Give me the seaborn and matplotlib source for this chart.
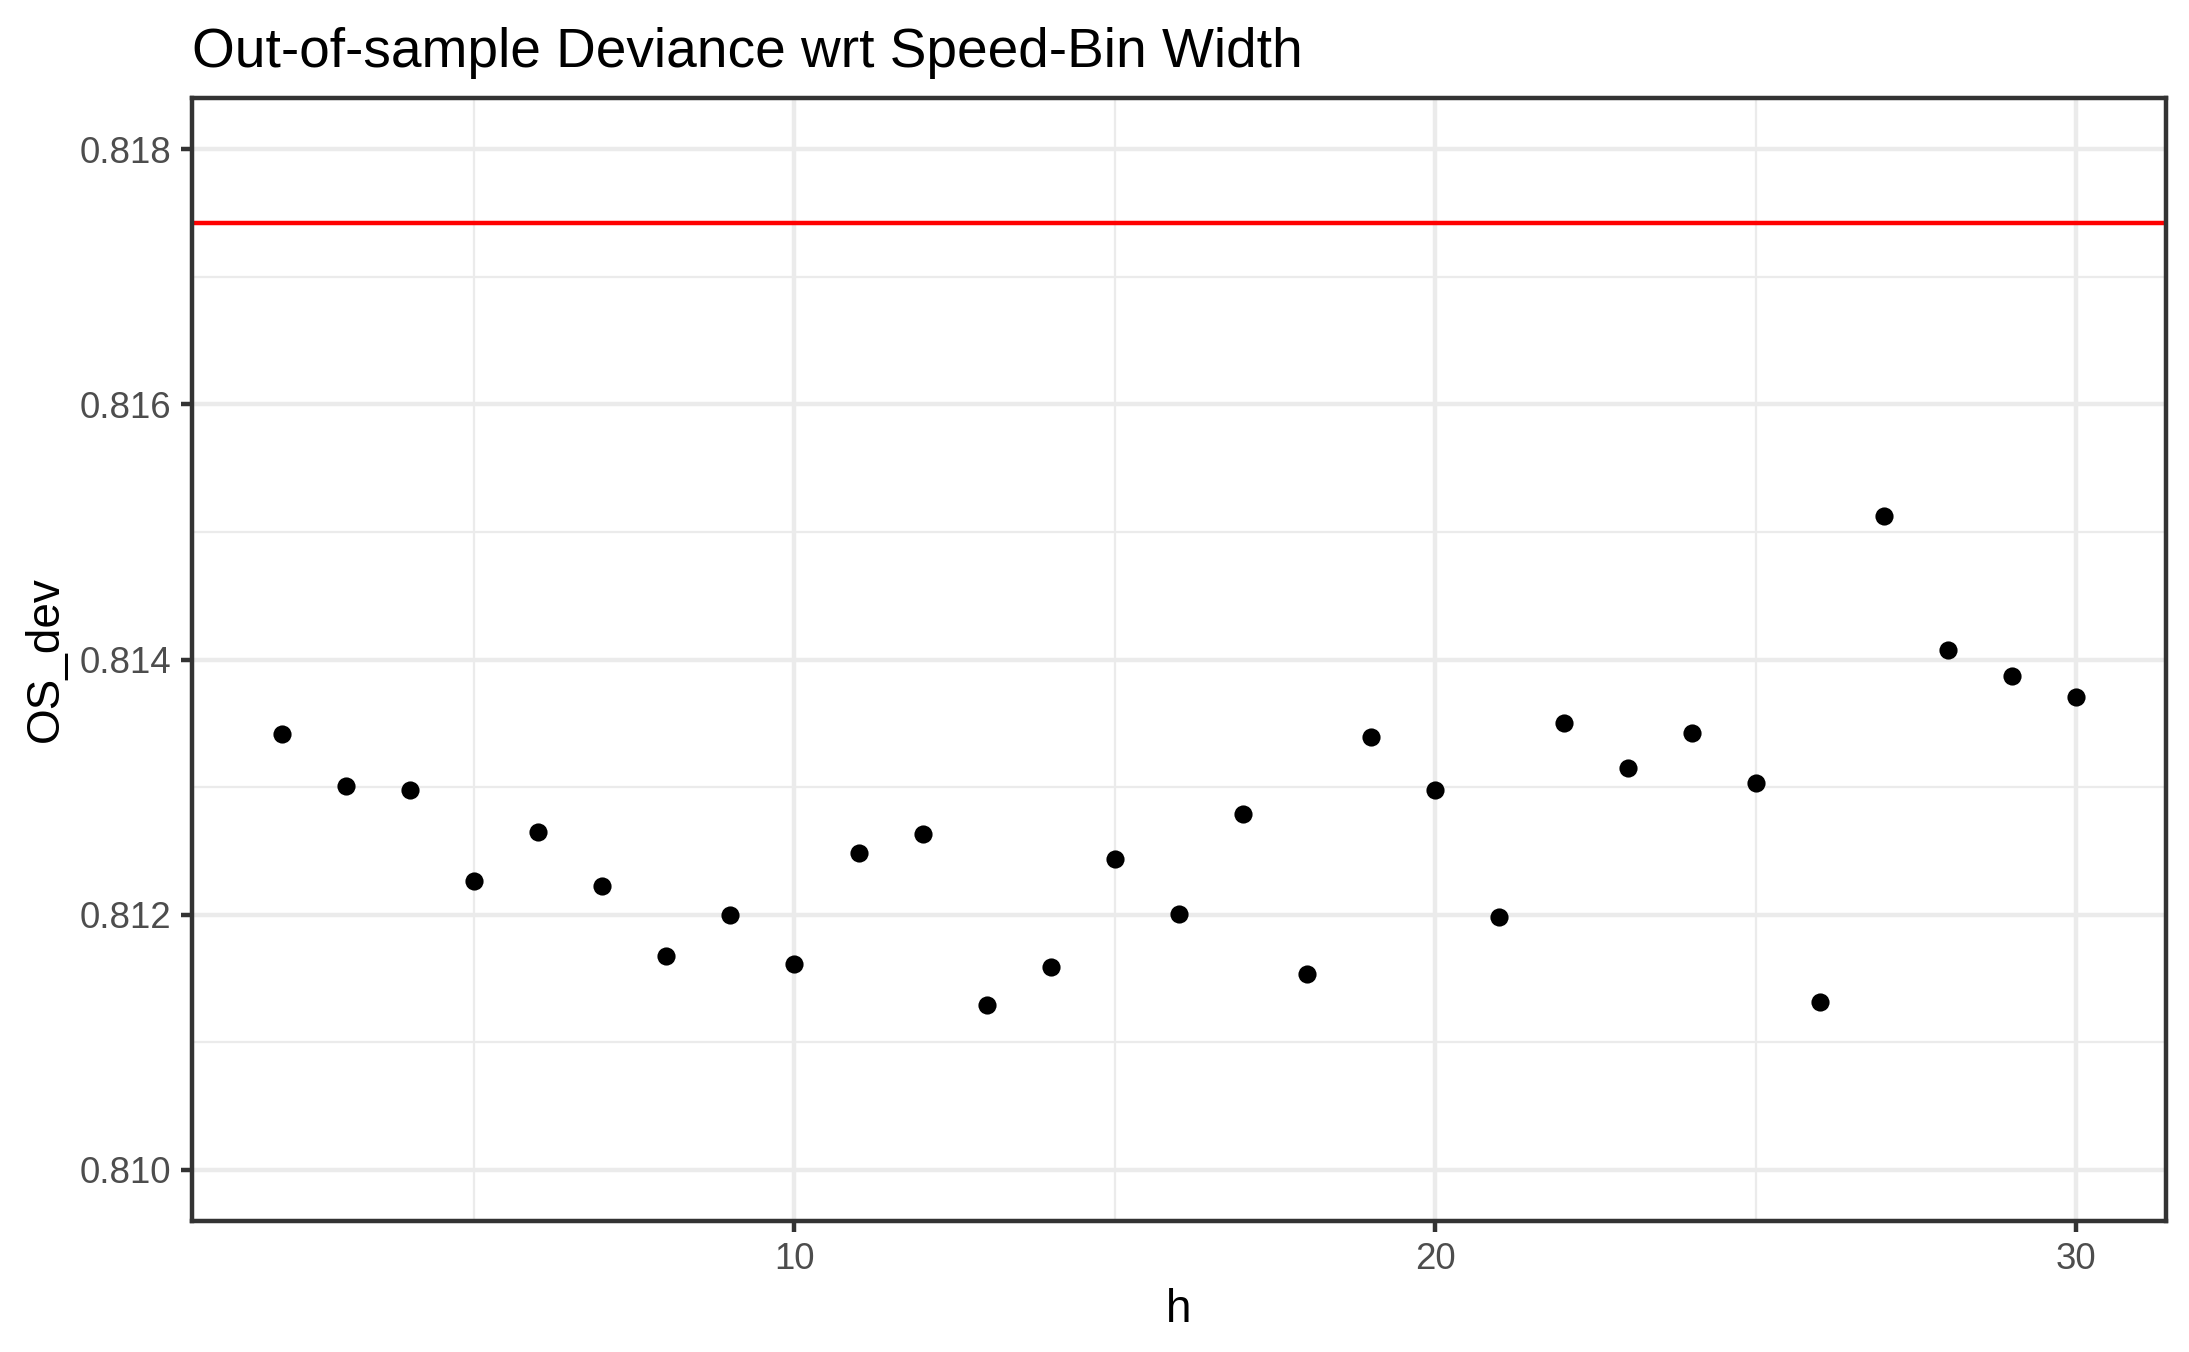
import matplotlib
matplotlib.use("Agg")
import matplotlib.pyplot as plt
import seaborn as sns
import pandas as pd
import numpy as np
from matplotlib.ticker import FixedLocator, FormatStrFormatter

h = list(range(2, 31))
os_dev = [0.813413, 0.813007, 0.812974, 0.812261, 0.812645, 0.812228, 0.811679,
          0.811997, 0.811613, 0.812480, 0.812634, 0.811295, 0.811591, 0.812436,
          0.812008, 0.812787, 0.811536, 0.813391, 0.812974, 0.811986, 0.813501,
          0.813150, 0.813424, 0.813029, 0.811317, 0.815125, 0.814071, 0.813874,
          0.813709]
ref_line = 0.817418

x_ticks = [10, 20, 30]
y_ticks = [0.810, 0.812, 0.814, 0.816, 0.818]
x_minor = [5, 15, 25]
y_minor = [0.811, 0.813, 0.815, 0.817]

df = pd.DataFrame({"h": h, "OS_dev": os_dev})

sns.set_theme(style="white")
plt.rcParams['font.family'] = ['Liberation Sans', 'DejaVu Sans']

fig = plt.figure(figsize=(2189/300, 1352/300), dpi=300)
ax = fig.add_axes([192/2189, 1 - 1221/1352, (2166-192)/2189, (1221-98)/1352])

grid_col = "#EBEBEB"
ax.set_axisbelow(True)
for v in x_minor:
    ax.axvline(v, color=grid_col, lw=0.53, zorder=0)
for v in y_minor:
    ax.axhline(v, color=grid_col, lw=0.53, zorder=0)
for v in x_ticks:
    ax.axvline(v, color=grid_col, lw=1.07, zorder=0)
for v in y_ticks:
    ax.axhline(v, color=grid_col, lw=1.07, zorder=0)

ax.axhline(ref_line, color="#FF0000", lw=1.07, zorder=2)
sns.scatterplot(data=df, x="h", y="OS_dev", ax=ax, color="black", s=19,
                linewidth=0, zorder=3)

ax.set_xlim(0.6, 31.4)
ax.set_ylim(0.8096, 0.8184)
ax.xaxis.set_major_locator(FixedLocator(x_ticks))
ax.yaxis.set_major_locator(FixedLocator(y_ticks))
ax.yaxis.set_major_formatter(FormatStrFormatter('%.3f'))

for s in ax.spines.values():
    s.set_color("#333333")
    s.set_linewidth(1.07)

ax.tick_params(axis='both', which='major', length=2.75, width=1.07,
               color="#333333", labelcolor="#4D4D4D", labelsize=8.8, pad=2.2,
               bottom=True, left=True)

ax.set_xlabel("h", fontsize=11, color="black", labelpad=2.75)
ax.set_ylabel("OS_dev", fontsize=11, color="black", labelpad=2.75)
ax.set_title("Out-of-sample Deviance wrt Speed-Bin Width", loc='left',
             fontsize=13.2, color="black", pad=7.5)

fig.savefig("out.png", dpi=300)
